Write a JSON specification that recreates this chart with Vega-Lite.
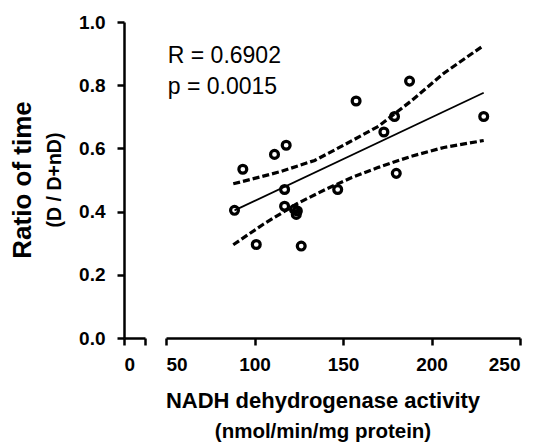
{
  "$schema": "https://vega.github.io/schema/vega-lite/v6.json",
  "background": "white",
  "padding": {"left": 10, "top": 13, "right": 0, "bottom": 0},
  "config": {
    "font": "Liberation Sans",
    "view": {"stroke": null},
    "axis": {"domainColor": "black", "domainWidth": 2.5, "tickColor": "black", "tickWidth": 2.5, "tickSize": 7, "labelColor": "black", "labelFont": "Liberation Sans", "labelFontSize": 19, "labelFontWeight": "bold", "grid": false, "titleColor": "black"},
    "title": {"color": "black", "subtitleColor": "black", "font": "Liberation Sans", "subtitleFont": "Liberation Sans"}
  },
  "datasets": {
    "pts": [
      {"nadh": 88.7, "ratio": 0.404},
      {"nadh": 93.4, "ratio": 0.534},
      {"nadh": 101.0, "ratio": 0.296},
      {"nadh": 111.3, "ratio": 0.581},
      {"nadh": 117.9, "ratio": 0.610},
      {"nadh": 117.0, "ratio": 0.470},
      {"nadh": 117.0, "ratio": 0.417},
      {"nadh": 122.6, "ratio": 0.407},
      {"nadh": 123.6, "ratio": 0.391},
      {"nadh": 124.2, "ratio": 0.402},
      {"nadh": 126.4, "ratio": 0.291},
      {"nadh": 147.0, "ratio": 0.470},
      {"nadh": 157.4, "ratio": 0.750},
      {"nadh": 173.1, "ratio": 0.652},
      {"nadh": 179.1, "ratio": 0.701},
      {"nadh": 180.1, "ratio": 0.521},
      {"nadh": 187.6, "ratio": 0.813},
      {"nadh": 229.5, "ratio": 0.701}
    ],
    "lines": [
      {"series": "fit", "nadh": 88.7, "ratio": 0.404},
      {"series": "fit", "nadh": 229.5, "ratio": 0.776},
      {"series": "upper", "nadh": 88.0, "ratio": 0.488},
      {"series": "upper", "nadh": 100.0, "ratio": 0.505},
      {"series": "upper", "nadh": 115.0, "ratio": 0.527},
      {"series": "upper", "nadh": 134.0, "ratio": 0.562},
      {"series": "upper", "nadh": 151.0, "ratio": 0.612},
      {"series": "upper", "nadh": 170.0, "ratio": 0.670},
      {"series": "upper", "nadh": 188.5, "ratio": 0.750},
      {"series": "upper", "nadh": 207.0, "ratio": 0.838},
      {"series": "upper", "nadh": 229.5, "ratio": 0.926},
      {"series": "lower", "nadh": 88.0, "ratio": 0.295},
      {"series": "lower", "nadh": 105.0, "ratio": 0.360},
      {"series": "lower", "nadh": 124.0, "ratio": 0.425},
      {"series": "lower", "nadh": 140.0, "ratio": 0.470},
      {"series": "lower", "nadh": 155.0, "ratio": 0.508},
      {"series": "lower", "nadh": 170.0, "ratio": 0.540},
      {"series": "lower", "nadh": 188.5, "ratio": 0.575},
      {"series": "lower", "nadh": 207.0, "ratio": 0.603},
      {"series": "lower", "nadh": 229.5, "ratio": 0.625}
    ],
    "notes": [
      {"label": "R = 0.6902", "nadh": 51, "ratio": 0.892},
      {"label": "p = 0.0015", "nadh": 51, "ratio": 0.793}
    ]
  },
  "bounds": "flush",
  "spacing": 21,
  "resolve": {"scale": {"x": "independent", "y": "independent"}},
  "hconcat": [
    {
      "width": 21,
      "height": 316,
      "data": {"name": "pts"},
      "title": {"text": "Ratio of time", "subtitle": "(D / D+nD)", "orient": "left", "anchor": "middle", "fontSize": 26, "fontWeight": "bold", "subtitleFontSize": 19.5, "subtitleFontWeight": "bold", "offset": 14, "subtitlePadding": 10},
      "mark": {"type": "point", "opacity": 0},
      "encoding": {
        "x": {"datum": 0, "type": "quantitative", "scale": {"domain": [0, 10], "nice": false, "zero": false}, "axis": {"values": [0, 10], "labelExpr": "datum.value === 0 ? '0' : ''", "title": null, "labelPadding": 10}},
        "y": {"field": "ratio", "type": "quantitative", "scale": {"domain": [0, 1], "nice": false}, "axis": {"values": [0, 0.2, 0.4, 0.6, 0.8, 1], "format": ".1f", "title": null, "labelPadding": 12}}
      }
    },
    {
      "width": 354,
      "height": 316,
      "title": {"text": "NADH dehydrogenase activity", "subtitle": "(nmol/min/mg protein)", "orient": "bottom", "anchor": "middle", "fontSize": 22, "fontWeight": "bold", "subtitleFontSize": 20.5, "subtitleFontWeight": "bold", "dx": -20, "offset": 17, "subtitlePadding": 9},
      "encoding": {
        "x": {"field": "nadh", "type": "quantitative", "scale": {"domain": [50, 250], "nice": false, "zero": false}, "axis": {"values": [50, 100, 150, 200, 250], "title": null, "labelPadding": 10}},
        "y": {"field": "ratio", "type": "quantitative", "scale": {"domain": [0, 1], "nice": false}, "axis": null}
      },
      "layer": [
        {
          "data": {"name": "lines"},
          "transform": [{"filter": "datum.series !== 'fit'"}],
          "mark": {"type": "line", "strokeDash": [7, 3], "strokeWidth": 3.2, "color": "black"},
          "encoding": {"detail": {"field": "series"}}
        },
        {
          "data": {"name": "lines"},
          "transform": [{"filter": "datum.series === 'fit'"}],
          "mark": {"type": "line", "strokeWidth": 1.8, "color": "black"},
          "encoding": {}
        },
        {
          "data": {"name": "pts"},
          "mark": {"type": "point", "shape": "circle", "filled": false, "size": 62, "strokeWidth": 3.2, "color": "black", "opacity": 1},
          "encoding": {}
        },
        {
          "data": {"name": "notes"},
          "mark": {"type": "text", "align": "left", "baseline": "middle", "fontSize": 23, "color": "black"},
          "encoding": {"text": {"field": "label"}}
        }
      ]
    }
  ]
}
